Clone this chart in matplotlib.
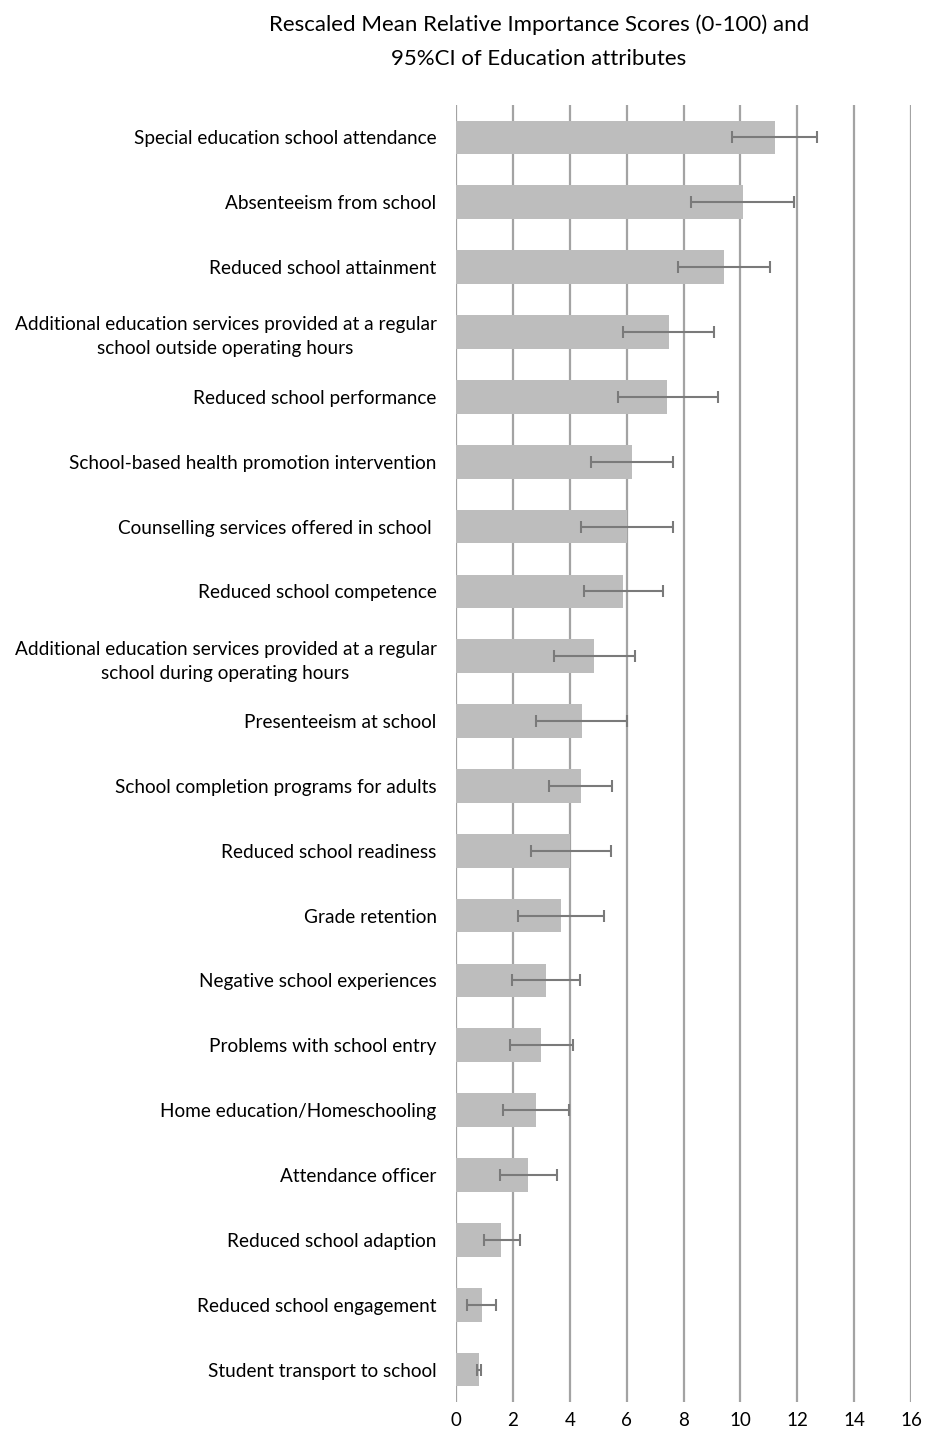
import matplotlib
matplotlib.use("Agg")
import matplotlib.pyplot as plt
import numpy as np

categories = [
    "Special education school attendance",
    "Absenteeism from school",
    "Reduced school attainment",
    "Additional education services provided at a regular\nschool outside operating hours",
    "Reduced school performance",
    "School-based health promotion intervention",
    "Counselling services offered in school ",
    "Reduced school competence",
    "Additional education services provided at a regular\nschool during operating hours",
    "Presenteeism at school",
    "School completion programs for adults",
    "Reduced school readiness",
    "Grade retention",
    "Negative school experiences",
    "Problems with school entry",
    "Home education/Homeschooling",
    "Attendance officer",
    "Reduced school adaption",
    "Reduced school engagement",
    "Student transport to school",
]
means = [11.21, 10.08, 9.42, 7.49, 7.43, 6.20, 6.01, 5.89, 4.86, 4.42,
         4.38, 4.02, 3.68, 3.16, 3.00, 2.81, 2.53, 1.59, 0.90, 0.81]
ci_low = [9.70, 8.26, 7.80, 5.88, 5.68, 4.76, 4.39, 4.50, 3.43, 2.81,
          3.28, 2.62, 2.18, 1.97, 1.89, 1.64, 1.53, 0.97, 0.40, 0.74]
ci_high = [12.70, 11.88, 11.04, 9.08, 9.20, 7.64, 7.62, 7.28, 6.29, 6.02,
           5.49, 5.45, 5.20, 4.36, 4.11, 3.96, 3.55, 2.24, 1.42, 0.88]
xticks = [0, 2, 4, 6, 8, 10, 12, 14, 16]
title = "Rescaled Mean Relative Importance Scores (0-100) and\n95%CI of Education attributes"

plt.rcParams['font.family'] = ['Lato', 'DejaVu Sans']

W, H = 936, 1429
fig = plt.figure(figsize=(W / 100, H / 100), dpi=100)
ax = fig.add_axes([456 / W, 1 - 1402 / H, (911 - 456) / W, (1402 - 105) / H])

y = np.arange(len(categories))
m = np.array(means)
xerr = np.vstack([m - np.array(ci_low), np.array(ci_high) - m])

for xt in xticks:
    ax.axvline(xt, color="#a3a3a3", lw=1.6, zorder=0)

ax.barh(y, m, height=0.52, color="#bdbdbd", edgecolor="none", zorder=2)
ax.errorbar(m, y, xerr=xerr, fmt="none", ecolor="#7a7a7a", elinewidth=1.5,
            capsize=4.5, capthick=1.5, zorder=3)

ax.set_xlim(0, 16)
ax.set_ylim(len(categories) - 0.5, -0.5)
ax.set_xticks(xticks)
ax.set_xticklabels([str(v) for v in xticks], fontsize=13.5)
ax.tick_params(axis="x", length=0, pad=7)
ax.set_yticks(y)
ax.set_yticklabels(categories, fontsize=13.7)
for lab in ax.get_yticklabels():
    lab.set_horizontalalignment("right")
    lab.set_multialignment("center")
    lab.set_linespacing(1.5)
ax.tick_params(axis="y", length=0, pad=14)
for s in ax.spines.values():
    s.set_visible(False)

fig.text(539 / W, 1 - 41.5 / H, title, ha="center", va="center", fontsize=16,
         linespacing=1.9)

fig.savefig("out.png", dpi=100)
